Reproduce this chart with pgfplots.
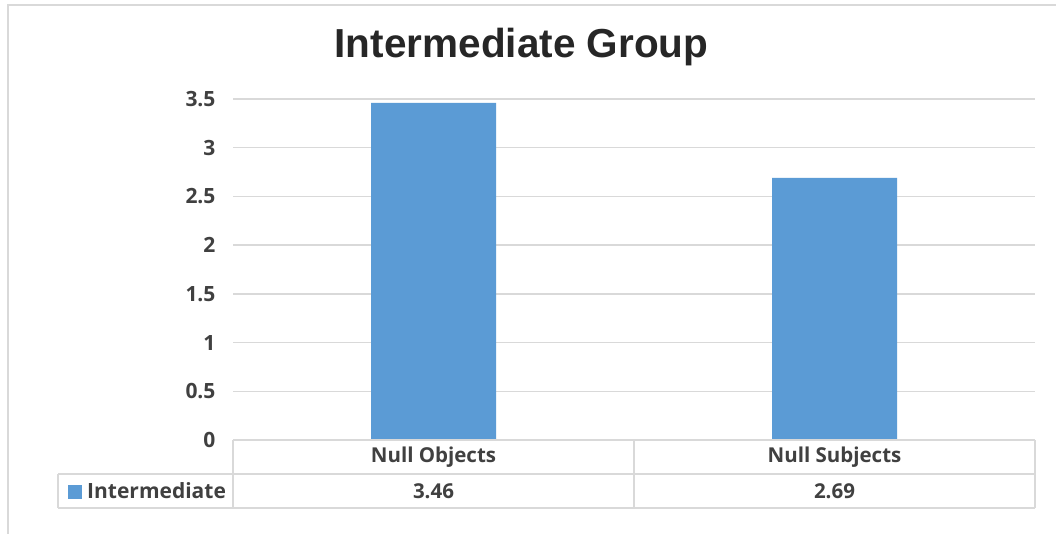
\documentclass[border=0pt]{standalone}
\usepackage{pgfplots}
\usepackage{pgfplotstable}
\pgfplotsset{compat=1.18}
\usepackage{fontspec}
\setmainfont{Open Sans}
\newfontfamily\titlefont{Liberation Sans}
\definecolor{barblue}{HTML}{5B9BD5}
\definecolor{gridgray}{HTML}{D9D9D9}
\definecolor{txtgray}{HTML}{404040}
\definecolor{titlegray}{HTML}{262626}

% mean scores of the intermediate group
\pgfplotstableread{
idx value
0 3.46
1 2.69
}\datatable

\begin{document}
\begin{tikzpicture}[x=1pt,y=1pt]
\useasboundingbox (0,0) rectangle (1056,-533);
\fill[white] (0,0) rectangle (1056,-533);
% chart frame
\draw[gridgray, line width=1.5pt] (8,-545) -- (8,-5) -- (1065,-5);
% title
\node[font=\titlefont\bfseries\fontsize{40.5}{44}\selectfont, text=titlegray, anchor=base]
  at (521.5,-57) {Intermediate Group};
\begin{axis}[
  at={(233pt,-440pt)}, anchor=south west,
  scale only axis, width=802pt, height=341pt,
  xmin=-0.5, xmax=1.5, ymin=0, ymax=3.5,
  ytick={0,0.5,1,1.5,2,2.5,3,3.5},
  xtick=\empty,
  ymajorgrids,
  major grid style={gridgray, line width=1.5pt},
  axis line style={draw=none},
  major tick length=0pt,
  yticklabel style={font=\bfseries\fontsize{21}{23}\selectfont, text=txtgray, xshift=-14pt},
  /pgf/number format/assume math mode=true,
  clip=false,
]
\addplot[ybar, bar width=125pt, fill=barblue, draw=none]
  table[x=idx, y=value] {\datatable};
\end{axis}
% data table below the axis
\begin{scope}[gridgray, line width=1.5pt]
\draw (233,-440) -- (1035,-440);
\draw (233,-440) -- (233,-508);
\draw (634,-440) -- (634,-508);
\draw (1035,-440) -- (1035,-508);
\draw (58,-474) -- (1035,-474);
\draw (58,-508) -- (1035,-508);
\draw (58,-474) -- (58,-508);
\end{scope}
\begin{scope}[every node/.style={font=\bfseries\fontsize{20.5}{22}\selectfont, text=txtgray}]
\node at (433.5,-457) {Null Objects};
\node at (834.5,-457) {Null Subjects};
\pgfplotstablegetelem{0}{value}\of\datatable
\node at (433.5,-491) {\pgfplotsretval};
\pgfplotstablegetelem{1}{value}\of\datatable
\node at (834.5,-491) {\pgfplotsretval};
\fill[barblue] (68,-485) rectangle (82,-499);
\node[anchor=west, inner sep=0pt, font=\bfseries\fontsize{21}{23}\selectfont] at (87,-491) {Intermediate};
\end{scope}
\end{tikzpicture}
\end{document}
